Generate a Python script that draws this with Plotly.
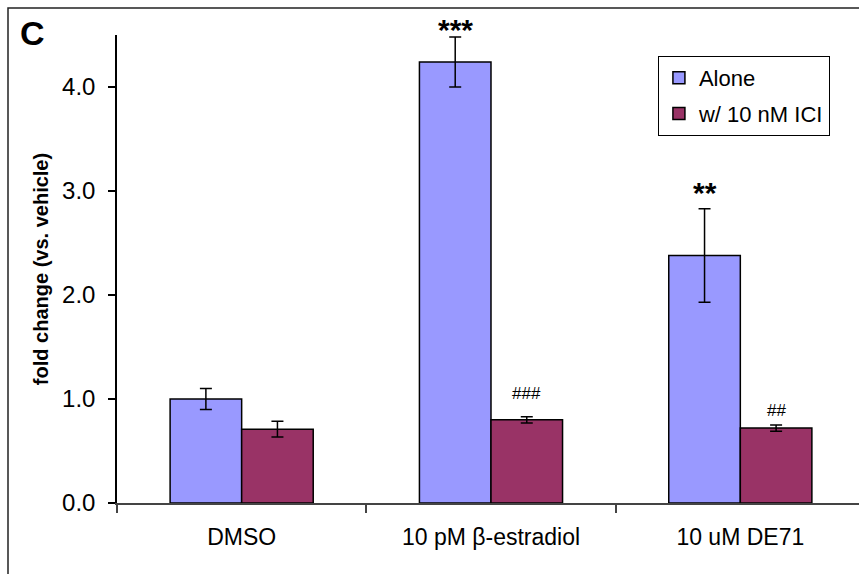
import plotly.graph_objects as go

categories = ["DMSO", "10 pM \u03b2-estradiol", "10 uM DE71"]
alone = [1.00, 4.24, 2.38]
alone_err = [0.10, 0.24, 0.45]
ici = [0.71, 0.80, 0.72]
ici_err = [0.075, 0.03, 0.03]
alone_sig = ["", "***", "**"]
ici_sig = ["", "###", "##"]

FONT = "Arial, Liberation Sans, sans-serif"
bargap = 0.426
alone_shift = [0, -11, -2]
ici_shift = [0, 12, 3]

fig = go.Figure()
fig.add_bar(x=categories, y=alone, name="Alone",
            marker=dict(color="#9999FF", line=dict(color="black", width=1.5)),
            error_y=dict(type="data", array=alone_err, color="black", thickness=1.5, width=6),
            legendgroup="a")
fig.add_bar(x=categories, y=ici, name="w/ 10 nM ICI",
            marker=dict(color="#993366", line=dict(color="black", width=1.5)),
            error_y=dict(type="data", array=ici_err, color="black", thickness=1.5, width=6),
            legendgroup="b")

half = (1 - bargap) / 4
for i, (v, e, s) in enumerate(zip(alone, alone_err, alone_sig)):
    if s:
        fig.add_annotation(x=i - half, y=v + e, text="<b>" + s + "</b>", showarrow=False,
                           yanchor="bottom", yshift=alone_shift[i],
                           font=dict(family=FONT, size=30, color="black"))
for i, (v, e, s) in enumerate(zip(ici, ici_err, ici_sig)):
    if s:
        fig.add_annotation(x=i + half, y=v + e, text=s, showarrow=False,
                           yanchor="bottom", yshift=ici_shift[i],
                           font=dict(family=FONT, size=17, color="black"))

fig.add_annotation(xref="paper", yref="paper", x=-0.1334, y=1.005, xanchor="left", yanchor="middle",
                   text="<b>C</b>", showarrow=False, font=dict(family=FONT, size=34, color="black"))

fig.add_shape(type="rect", xref="paper", yref="paper", x0=-0.1469, x1=1.05, y0=-0.3, y1=1.0577,
              line=dict(color="#222", width=1.5), fillcolor="rgba(0,0,0,0)", layer="above")

fig.update_layout(
    width=859, height=574,
    margin=dict(l=117, r=0, t=35, b=71),
    paper_bgcolor="white", plot_bgcolor="white",
    barmode="group", bargap=bargap, bargroupgap=0,
    font=dict(family=FONT, size=23, color="black"),
    showlegend=True,
    legend=dict(x=0.729, y=0.955, xanchor="left", yanchor="top",
                bordercolor="black", borderwidth=1, bgcolor="white",
                font=dict(family=FONT, size=22), tracegroupgap=4, traceorder="grouped"),
    xaxis=dict(range=[-0.5, 2.476], showline=True, linecolor="#444", linewidth=1.5,
               ticks="outside", tickson="boundaries", ticklen=8, tickcolor="#444", tickwidth=1.5,
               showgrid=False, ticklabelstandoff=13, tickfont=dict(size=23)),
    yaxis=dict(range=[0, 4.5], showline=True, linecolor="black", linewidth=1.5,
               ticks="outside", ticklen=7, tickwidth=1.5, tickcolor="black",
               tickvals=[0, 1, 2, 3, 4], tickformat=".1f", showgrid=False, zeroline=False,
               ticklabelstandoff=8, tickfont=dict(size=24),
               title=dict(text="<b>fold change (vs. vehicle)</b>", font=dict(size=20), standoff=8)),
)

fig.write_html("out.html")
